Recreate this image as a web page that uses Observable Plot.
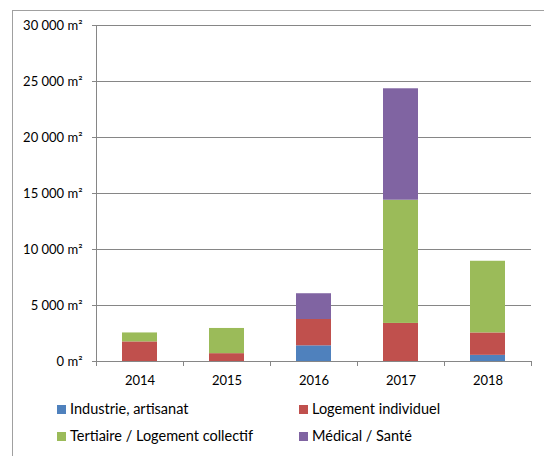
<!DOCTYPE html>
<html>
<head>
<meta charset="utf-8">
<script src="https://cdn.jsdelivr.net/npm/d3@7"></script>
<script src="https://cdn.jsdelivr.net/npm/@observablehq/plot@0.6"></script>
<style>
  html, body { margin: 0; padding: 0; background: #fff; overflow: hidden; }
  #wrap { position: relative; width: 544px; height: 456px; overflow: hidden; font-family: Lato, "Noto Sans", sans-serif; }
  #frame { position: absolute; left: 12px; top: 10px; width: 620px; height: 520px; border: 1px solid #a0a0a0; box-sizing: border-box; }
  #chart { position: absolute; left: 0; top: 0; }
  .leg { position: absolute; font-size: 14.5px; color: #000; white-space: nowrap; line-height: 16px; }
  .leg span.sw { display: inline-block; width: 9px; height: 9px; margin-right: 4px; vertical-align: 0px; }
</style>
</head>
<body>
<div id="wrap">
  <div id="frame"></div>
  <div id="chart"></div>
  <div id="legend"></div>
</div>
<script>
const years = ["2014", "2015", "2016", "2017", "2018"];
const categories = ["Industrie, artisanat", "Logement individuel", "Tertiaire / Logement collectif", "Médical / Santé"];
const industrie = [0, 0, 1400, 0, 550];
const logementIndividuel = [1750, 700, 2350, 3400, 2000];
const tertiaire = [800, 2250, 0, 11000, 6400];
const medical = [0, 0, 2300, 9950, 0];
const yTicks = [0, 5000, 10000, 15000, 20000, 25000, 30000];
const colors = ["#4F81BD", "#C0504D", "#9BBB59", "#8064A2"];

const series = [industrie, logementIndividuel, tertiaire, medical];
const rows = categories.flatMap((c, ci) => years.map((y, yi) => ({year: y, category: c, value: series[ci][yi]})));

const fmt = d => (d === 0 ? "0" : d3.format(",")(d).replace(/,/g, "\u00a0")) + "\u00a0m²";
const gridColor = "#868686";

const chart = Plot.plot({
  width: 544,
  height: 400,
  marginLeft: 96,
  marginRight: 13,
  marginTop: 25,
  marginBottom: 39,
  style: {fontFamily: "Lato, 'Noto Sans', sans-serif", fontSize: "13px", color: "#000", background: "transparent", overflow: "visible"},
  x: {domain: years, paddingInner: 0.6, paddingOuter: 0.3, align: 0.5},
  y: {domain: [0, 30000]},
  color: {domain: categories, range: colors},
  marks: [
    Plot.ruleY(yTicks, {stroke: gridColor, strokeWidth: 1}),
    Plot.barY(rows, {x: "year", y: "value", fill: "category"}),
    Plot.ruleX([years[0]], {x: d => d, dx: -43.5, stroke: gridColor, y1: 30000, y2: 0}),
    Plot.ruleX(years, {x: d => d, dx: -43.5, stroke: gridColor, y1: 0, y2: 0, insetBottom: -5}),
    Plot.ruleX([years[4]], {x: d => d, dx: 43.5, stroke: gridColor, y1: 0, y2: 0, insetBottom: -5}),
    Plot.axisY({ticks: yTicks, tickFormat: fmt, tickSize: 4, tickPadding: 10, stroke: gridColor, label: null, fontSize: 13}),
    Plot.axisX({tickSize: 0, tickPadding: 14, label: null, fontSize: 13})
  ]
});
document.getElementById("chart").appendChild(chart);

const legendPos = [[57, 409], [299, 409], [57, 436], [299, 436]];
const legend = document.getElementById("legend");
categories.forEach((c, i) => {
  const d = document.createElement("div");
  d.className = "leg";
  d.style.left = legendPos[i][0] + "px";
  d.style.top = (legendPos[i][1] - 8) + "px";
  d.innerHTML = `<span class="sw" style="background:${colors[i]}"></span>${c}`;
  legend.appendChild(d);
});
</script>
</body>
</html>
